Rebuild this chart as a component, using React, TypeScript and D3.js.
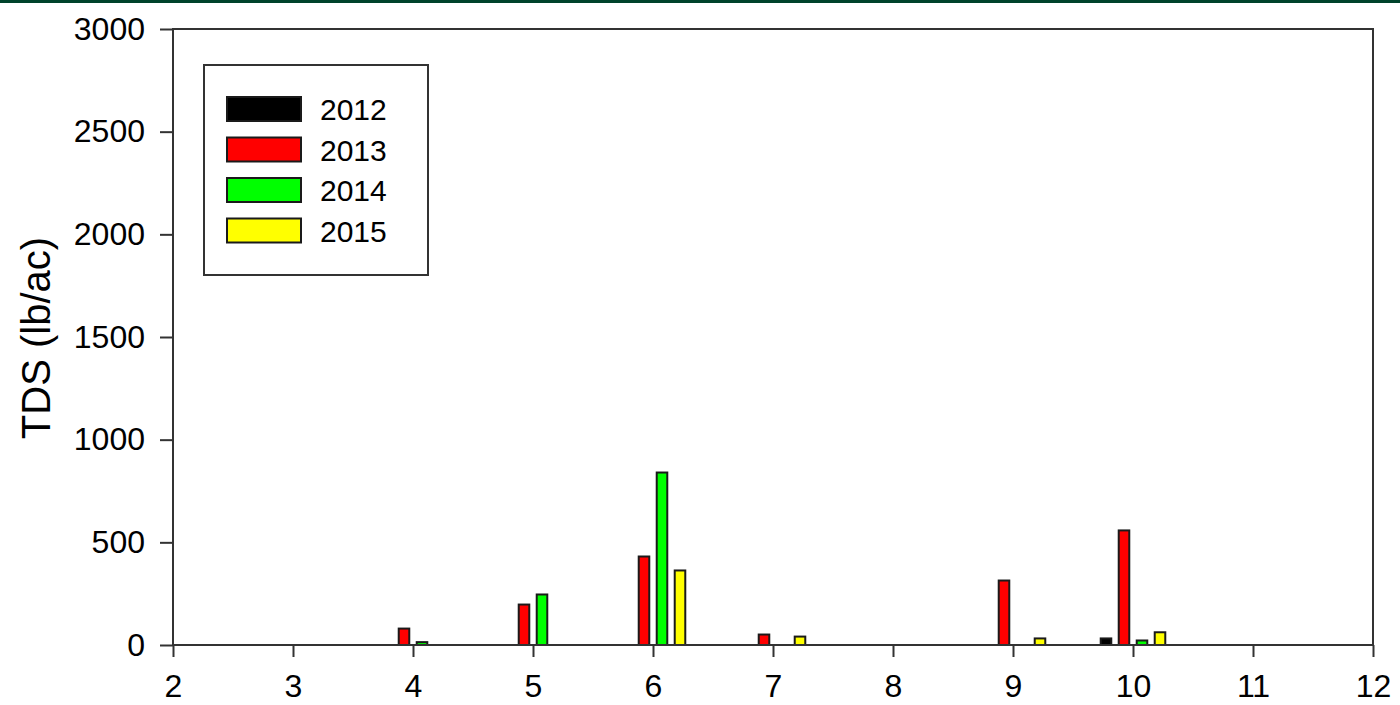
import React, { useEffect, useRef } from 'react';
import * as d3 from 'd3';

// sampling months and yearly series (TDS, lb/ac)
const months = [4, 5, 6, 7, 9, 10];
const years = ['2012', '2013', '2014', '2015'];
const colors = ['#000000', '#ff0000', '#00ff00', '#ffff00'];
const tds2012 = [0, 0, 0, 0, 0, 32];
const tds2013 = [80, 197, 431, 51, 314, 558];
const tds2014 = [14, 246, 840, 0, 0, 22];
const tds2015 = [0, 0, 363, 41, 32, 62];
const series = [tds2012, tds2013, tds2014, tds2015];
const xTicks = [2, 3, 4, 5, 6, 7, 8, 9, 10, 11, 12];
const yTicks = [0, 500, 1000, 1500, 2000, 2500, 3000];

const App = () => {
  const svgRef = useRef(null);

  useEffect(() => {
    const svg = d3.select(svgRef.current);
    svg.selectAll('*').remove();

    const left = 173, right = 1373, top = 29, bottom = 645;
    const font = '"Liberation Sans", Arial, sans-serif';

    const x = d3.scaleLinear().domain([2, 12]).range([left, right]);
    const y = d3.scaleLinear().domain([0, 3000]).range([bottom, top]);

    // top green band
    svg.append('rect').attr('x', 0).attr('y', 0).attr('width', 1400).attr('height', 3).attr('fill', '#00432b');

    // bars
    const offsets = [-0.225, -0.075, 0.075, 0.225];
    const bw = x(2.088) - x(2);
    series.forEach((vals, si) => {
      svg.append('g')
        .selectAll('rect')
        .data(vals.map((v, i) => ({ m: months[i], v })).filter(d => d.v > 0))
        .enter()
        .append('rect')
        .attr('x', d => x(d.m + offsets[si]) - bw / 2)
        .attr('y', d => y(d.v))
        .attr('width', bw)
        .attr('height', d => y(0) - y(d.v))
        .attr('fill', colors[si])
        .attr('stroke', '#1a1a1a')
        .attr('stroke-width', 2);
    });

    // frame
    svg.append('rect')
      .attr('x', left).attr('y', top)
      .attr('width', right - left).attr('height', bottom - top)
      .attr('fill', 'none').attr('stroke', '#333').attr('stroke-width', 2);

    // y axis
    const yAxis = svg.append('g')
      .attr('transform', `translate(${left},0)`)
      .call(d3.axisLeft(y).tickValues(yTicks).tickSize(13).tickPadding(15).tickFormat(d3.format('d')));
    yAxis.select('.domain').remove();
    yAxis.selectAll('line').attr('stroke', '#333').attr('stroke-width', 2);
    yAxis.selectAll('text').attr('font-family', font).attr('font-size', 32).attr('fill', '#000');

    // x axis
    const xAxis = svg.append('g')
      .attr('transform', `translate(0,${bottom})`)
      .call(d3.axisBottom(x).tickValues(xTicks).tickSize(12).tickPadding(17).tickFormat(d3.format('d')));
    xAxis.select('.domain').remove();
    xAxis.selectAll('line').attr('stroke', '#333').attr('stroke-width', 2);
    xAxis.selectAll('text').attr('font-family', font).attr('font-size', 32).attr('fill', '#000');

    // y label
    svg.append('text')
      .attr('transform', `translate(50,338) rotate(-90)`)
      .attr('text-anchor', 'middle')
      .attr('font-family', font)
      .attr('font-size', 40)
      .attr('fill', '#000')
      .text('TDS (lb/ac)');

    // legend
    const legend = svg.append('g');
    legend.append('rect')
      .attr('x', 204).attr('y', 65).attr('width', 224).attr('height', 210)
      .attr('fill', '#fff').attr('stroke', '#333').attr('stroke-width', 2);
    years.forEach((yr, i) => {
      const cy = 109 + i * 40.5;
      legend.append('rect')
        .attr('x', 227).attr('y', cy - 12).attr('width', 74).attr('height', 24)
        .attr('fill', colors[i]).attr('stroke', '#1a1a1a').attr('stroke-width', 2);
      legend.append('text')
        .attr('x', 320).attr('y', cy + 11)
        .attr('font-family', font).attr('font-size', 30).attr('fill', '#000')
        .text(yr);
    });
  }, []);

  return (
    <div style={{ position: 'absolute', left: 0, top: 0, width: 1400, height: 705, background: '#fff' }}>
      <svg ref={svgRef} width={1400} height={705} />
    </div>
  );
};

export default App;
